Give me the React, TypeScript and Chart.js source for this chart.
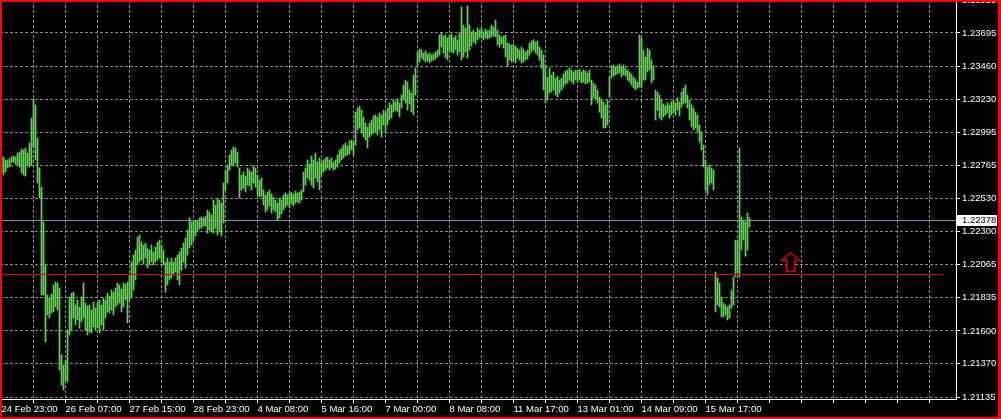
import React, { useEffect, useRef } from 'react';
import { Chart, registerables } from 'chart.js';

Chart.register(...registerables);

// ---- data ----
const X_LABELS = ['24 Feb 23:00', '26 Feb 07:00', '27 Feb 15:00', '28 Feb 23:00', '4 Mar 08:00', '5 Mar 16:00', '7 Mar 00:00', '8 Mar 08:00', '11 Mar 17:00', '13 Mar 01:00', '14 Mar 09:00', '15 Mar 17:00'];
const Y_TICKS = [1.21135, 1.2137, 1.216, 1.21835, 1.22065, 1.223, 1.2253, 1.22765, 1.22995, 1.2323, 1.2346, 1.23695, 1.23925];

const HIGHS = [
  1.22823, 1.22823, 1.22802, 1.22802, 1.22809, 1.22823, 1.2283, 1.22823, 1.22851, 1.22858, 1.22879, 1.22872, 1.22886, 1.22851, 1.22921, 1.23097,
  1.23231, 1.23189, 1.22956, 1.22746, 1.22612, 1.22366, 1.22063, 1.21852, 1.21831, 1.21859, 1.21923, 1.21944, 1.21937, 1.21901, 1.21431, 1.2136,
  1.21395, 1.21606, 1.21838, 1.21866, 1.21873, 1.21782, 1.21817, 1.21768, 1.21838, 1.21937, 1.21796, 1.21775, 1.21782, 1.21747, 1.21803, 1.21761,
  1.21796, 1.21817, 1.21782, 1.21831, 1.21817, 1.21866, 1.21845, 1.21887, 1.21873, 1.21901, 1.21937, 1.21923, 1.21894, 1.21937, 1.2193, 1.21944,
  1.21993, 1.22084, 1.22133, 1.22169, 1.2226, 1.22274, 1.22225, 1.22204, 1.22218, 1.22183, 1.22169, 1.22204, 1.22155, 1.2219, 1.22225, 1.22239,
  1.22204, 1.22169, 1.22084, 1.22112, 1.22084, 1.22112, 1.22084, 1.22112, 1.22133, 1.22155, 1.22183, 1.22218, 1.22253, 1.22309, 1.22394, 1.22366,
  1.22366, 1.2238, 1.22373, 1.22394, 1.22401, 1.22394, 1.22408, 1.2245, 1.22436, 1.22415, 1.2252, 1.22485, 1.22534, 1.2252, 1.22499, 1.2264,
  1.22731, 1.22767, 1.22837, 1.22872, 1.22893, 1.22886, 1.22858, 1.22746, 1.22696, 1.22717, 1.22689, 1.22746, 1.22731, 1.22717, 1.2276, 1.22746,
  1.22696, 1.22661, 1.22675, 1.22591, 1.22556, 1.22577, 1.22591, 1.22563, 1.22541, 1.2252, 1.22499, 1.22534, 1.2252, 1.22556, 1.2257, 1.22556,
  1.2257, 1.22577, 1.22563, 1.22584, 1.2257, 1.22577, 1.22591, 1.22717, 1.22746, 1.22802, 1.22774, 1.2283, 1.22802, 1.22851, 1.22788, 1.22816,
  1.22781, 1.22802, 1.22816, 1.22823, 1.22802, 1.22816, 1.22788, 1.22802, 1.22837, 1.22872, 1.22886, 1.22907, 1.22921, 1.229, 1.22935, 1.22942,
  1.22928, 1.23139, 1.23167, 1.23181, 1.23153, 1.23104, 1.23062, 1.23034, 1.23062, 1.23083, 1.23111, 1.23118, 1.23104, 1.23132, 1.23118, 1.23153,
  1.23139, 1.23167, 1.23203, 1.23189, 1.23224, 1.2321, 1.23231, 1.23203, 1.23259, 1.23329, 1.23364, 1.2335, 1.23294, 1.23273, 1.234, 1.23449,
  1.23561, 1.23582, 1.23575, 1.23554, 1.23568, 1.23547, 1.23554, 1.2354, 1.23547, 1.23561, 1.23575, 1.23681, 1.23695, 1.23674, 1.23681, 1.2366,
  1.23681, 1.23688, 1.2366, 1.23674, 1.23646, 1.23695, 1.23878, 1.23751, 1.2373, 1.23885, 1.23751, 1.23702, 1.23716, 1.23695, 1.2373, 1.23716,
  1.2373, 1.23702, 1.23723, 1.23709, 1.23716, 1.23751, 1.23737, 1.23786, 1.23716, 1.23681, 1.23667, 1.23674, 1.23681, 1.23625, 1.23618, 1.23611,
  1.23618, 1.23603, 1.23589, 1.23575, 1.23596, 1.23582, 1.23561, 1.23575, 1.23625, 1.23639, 1.23646, 1.23632, 1.23639, 1.23596, 1.23575, 1.2354,
  1.2347, 1.23385, 1.23449, 1.234, 1.23421, 1.23378, 1.23392, 1.23364, 1.23378, 1.23407, 1.23428, 1.23435, 1.23449, 1.23435, 1.23421, 1.23435,
  1.23428, 1.23442, 1.23421, 1.23435, 1.23428, 1.23414, 1.23435, 1.23364, 1.23343, 1.23329, 1.23294, 1.23245, 1.23224, 1.2321, 1.23189, 1.23224,
  1.23385, 1.23463, 1.2347, 1.23456, 1.23463, 1.23477, 1.23456, 1.2347, 1.23449, 1.23435, 1.23421, 1.23407, 1.23385, 1.23371, 1.2335, 1.23681,
  1.2366, 1.23575, 1.23526, 1.23589, 1.23575, 1.23505, 1.23463, 1.23294, 1.2328, 1.23259, 1.23224, 1.23196, 1.23181, 1.23203, 1.23189, 1.2321,
  1.23224, 1.23203, 1.23238, 1.2321, 1.2328, 1.23308, 1.23329, 1.23259, 1.23224, 1.23189, 1.23167, 1.23139, 1.23118, 1.23048, 1.22999, 1.22907,
  1.22802, 1.22753, 1.22767, 1.22746, 1.22731, 1.22014, 1.21972, 1.21937, 1.21838, 1.21796, 1.21782, 1.21768, 1.21782, 1.21887, 1.21979, 1.22239,
  1.22239, 1.22886, 1.22401, 1.2238, 1.22366, 1.22429, 1.22395,
];

const LOWS = [
  1.22717, 1.22696, 1.22717, 1.22746, 1.22753, 1.22781, 1.22788, 1.22774, 1.22767, 1.22753, 1.2271, 1.22696, 1.22689, 1.2276, 1.22753, 1.22767,
  1.22893, 1.22802, 1.2264, 1.22534, 1.21852, 1.21852, 1.21522, 1.21712, 1.21691, 1.21726, 1.21733, 1.21768, 1.21747, 1.21325, 1.21219, 1.21184,
  1.21255, 1.21241, 1.21571, 1.21606, 1.21691, 1.21642, 1.21677, 1.2162, 1.21663, 1.21691, 1.21606, 1.21571, 1.21592, 1.21585, 1.21627, 1.21606,
  1.2162, 1.21585, 1.21642, 1.21606, 1.21691, 1.21733, 1.21726, 1.21747, 1.21712, 1.21768, 1.21782, 1.21796, 1.21733, 1.21768, 1.21817, 1.21656,
  1.21817, 1.21838, 1.21887, 1.21958, 1.22063, 1.22084, 1.22098, 1.2207, 1.22112, 1.22042, 1.22063, 1.22084, 1.22063, 1.22084, 1.22098, 1.22112,
  1.22084, 1.22063, 1.21873, 1.21923, 1.21958, 1.21972, 1.21993, 1.22014, 1.21958, 1.21923, 1.22028, 1.22084, 1.22042, 1.22133, 1.22183, 1.22204,
  1.22239, 1.22267, 1.22295, 1.22316, 1.22323, 1.22337, 1.22337, 1.22288, 1.22309, 1.22295, 1.22288, 1.22323, 1.22274, 1.22295, 1.22267, 1.22359,
  1.22591, 1.2264, 1.22731, 1.22767, 1.2276, 1.22781, 1.22753, 1.22534, 1.22591, 1.22605, 1.22577, 1.22626, 1.22619, 1.22591, 1.2264, 1.22612,
  1.22556, 1.22541, 1.22548, 1.22485, 1.22436, 1.2245, 1.22478, 1.22429, 1.2245, 1.22436, 1.2238, 1.22394, 1.22422, 1.2245, 1.22471, 1.22485,
  1.22464, 1.22492, 1.22478, 1.22499, 1.22506, 1.22499, 1.2252, 1.22577, 1.22626, 1.22675, 1.22661, 1.22626, 1.22605, 1.22675, 1.22647, 1.22591,
  1.22696, 1.22717, 1.22731, 1.22746, 1.22731, 1.22746, 1.22731, 1.22738, 1.22753, 1.22781, 1.22802, 1.22816, 1.2283, 1.22837, 1.22844, 1.22872,
  1.22837, 1.22907, 1.23013, 1.23027, 1.22992, 1.22963, 1.22942, 1.22886, 1.22963, 1.22978, 1.22992, 1.22999, 1.22978, 1.23013, 1.22963, 1.23048,
  1.22992, 1.23048, 1.23083, 1.23097, 1.23139, 1.23153, 1.23139, 1.23104, 1.23167, 1.23224, 1.23203, 1.23153, 1.23196, 1.23139, 1.23118, 1.23259,
  1.23456, 1.23491, 1.23519, 1.23505, 1.23491, 1.23498, 1.23484, 1.23498, 1.23505, 1.23512, 1.23526, 1.2354, 1.23596, 1.23554, 1.23519, 1.23505,
  1.23575, 1.23561, 1.23554, 1.23575, 1.2354, 1.23561, 1.23505, 1.23526, 1.23561, 1.23519, 1.23575, 1.23603, 1.23632, 1.23618, 1.23646, 1.2366,
  1.2366, 1.23646, 1.2366, 1.23653, 1.2366, 1.23667, 1.23674, 1.23667, 1.23611, 1.23596, 1.23618, 1.23589, 1.23526, 1.23456, 1.23505, 1.23491,
  1.23505, 1.23484, 1.23519, 1.23505, 1.23484, 1.23491, 1.23505, 1.23512, 1.2354, 1.23561, 1.23575, 1.23554, 1.2354, 1.23505, 1.23449, 1.23294,
  1.23203, 1.23224, 1.23273, 1.2328, 1.23294, 1.23259, 1.23245, 1.23273, 1.23294, 1.23315, 1.23336, 1.23343, 1.23364, 1.2335, 1.23336, 1.23364,
  1.2335, 1.23364, 1.23343, 1.2335, 1.23336, 1.23343, 1.2335, 1.23189, 1.23238, 1.23224, 1.23203, 1.23139, 1.23097, 1.23027, 1.23027, 1.23048,
  1.23245, 1.23378, 1.23392, 1.234, 1.23407, 1.23414, 1.23385, 1.234, 1.23392, 1.23364, 1.2335, 1.23329, 1.23308, 1.23294, 1.23308, 1.23315,
  1.23308, 1.23364, 1.23364, 1.23421, 1.23435, 1.23343, 1.23364, 1.23083, 1.23153, 1.23097, 1.23083, 1.23104, 1.23118, 1.23132, 1.23097, 1.23118,
  1.23132, 1.23118, 1.23153, 1.23111, 1.23174, 1.23196, 1.23203, 1.23167, 1.23083, 1.23034, 1.23013, 1.23027, 1.22999, 1.22928, 1.22872, 1.22753,
  1.22591, 1.22556, 1.22626, 1.2264, 1.22591, 1.21733, 1.21782, 1.21768, 1.21698, 1.21698, 1.21712, 1.21677, 1.21691, 1.21761, 1.21782, 1.21979,
  1.22007, 1.21979, 1.22169, 1.22239, 1.22126, 1.22169, 1.2233,
];

const BID_PRICE = 1.22378;
const LEVEL_PRICE = 1.22;
const LEVEL_END_BAR = 471;
const ARROW_BAR = 394;
const ARROW_PRICE = 1.22155;

// ---- view / style ----
const W = 1001;
const H = 419;
const Y_MIN = 1.21121;
const Y_MAX = 1.23927;
const SLOTS = 478;
const BARS_PER_GRID = 16;
const BAR_COLOR = 'rgb(80,225,65)';
const GRID_COLOR = '#8a8a8a';
const TEXT_COLOR = '#ffffff';
const FONT = { family: "'Liberation Sans', Arial, sans-serif", size: 9.5 };

const gridTicks: number[] = [];
for (let v = 0; v < SLOTS; v += BARS_PER_GRID) gridTicks.push(v);

const overlay = {
  id: 'mt4Overlay',
  afterDatasetsDraw(chart: any) {
    const { ctx, chartArea: a, scales } = chart;
    const xs = scales.x;
    const ys = scales.y;
    ctx.save();
    ctx.lineWidth = 1;
    // horizontal level line
    const yl = Math.round(ys.getPixelForValue(LEVEL_PRICE)) + 0.5;
    ctx.strokeStyle = '#e00000';
    ctx.beginPath();
    ctx.moveTo(a.left, yl);
    ctx.lineTo(xs.getPixelForValue(LEVEL_END_BAR), yl);
    ctx.stroke();
    // bid line
    const yb = Math.round(ys.getPixelForValue(BID_PRICE)) + 0.5;
    ctx.strokeStyle = '#8797a6';
    ctx.beginPath();
    ctx.moveTo(a.left, yb);
    ctx.lineTo(a.right, yb);
    ctx.stroke();
    // up arrow object
    const cx = Math.round(xs.getPixelForValue(ARROW_BAR)) + 0.5;
    const ty = Math.round(ys.getPixelForValue(ARROW_PRICE)) + 0.5;
    const pts = [[0, 0], [9, 8], [4, 8], [4, 19], [-4, 19], [-4, 8], [-9, 8]];
    ctx.beginPath();
    pts.forEach(([px, py], i) => (i ? ctx.lineTo(cx + px, ty + py) : ctx.moveTo(cx + px, ty + py)));
    ctx.closePath();
    ctx.fillStyle = '#000';
    ctx.fill();
    ctx.strokeStyle = '#d80000';
    ctx.lineWidth = 1.5;
    ctx.stroke();
    ctx.restore();
  },
  afterDraw(chart: any) {
    const { ctx, chartArea: a, scales } = chart;
    const ys = scales.y;
    ctx.save();
    const yb = Math.round(ys.getPixelForValue(BID_PRICE));
    ctx.fillStyle = '#ffffff';
    ctx.fillRect(a.right + 1, yb - 5, 40, 11);
    ctx.fillStyle = '#000000';
    ctx.font = `${FONT.size}px ${FONT.family}`;
    ctx.textBaseline = 'middle';
    ctx.textAlign = 'left';
    ctx.fillText(BID_PRICE.toFixed(5), a.right + 6, yb + 0.5);
    // red frame
    ctx.fillStyle = '#ff0000';
    ctx.fillRect(0, 0, W, 2);
    ctx.fillRect(0, H - 2, W, 2);
    ctx.fillRect(0, 0, 2, H);
    ctx.fillRect(W - 3, 0, 3, H);
    ctx.restore();
  },
};

export default function App() {
  const ref = useRef<HTMLCanvasElement>(null);
  useEffect(() => {
    document.body.style.margin = '0';
    document.body.style.background = '#000';
    const canvas = ref.current as HTMLCanvasElement;
    const chart = new Chart(canvas, {
      type: 'bar',
      data: {
        datasets: [
          {
            data: HIGHS.map((h, i) => ({ x: i, y: [LOWS[i], h] })) as any,
            backgroundColor: BAR_COLOR,
            borderWidth: 0,
            borderSkipped: false,
            inflateAmount: 0.35,
            barThickness: 1,
            grouped: false,
          } as any,
        ],
      },
      options: {
        responsive: false,
        animation: false,
        events: [],
        layout: { padding: 0 },
        plugins: { legend: { display: false }, tooltip: { enabled: false } },
        scales: {
          x: {
            type: 'linear',
            position: 'bottom',
            min: -0.75,
            max: SLOTS - 0.75,
            bounds: 'data',
            offset: false,
            afterBuildTicks: (s: any) => {
              s.ticks = gridTicks.map((v) => ({ value: v }));
            },
            afterFit: (s: any) => {
              s.height = 20;
              s.paddingLeft = 0;
              s.paddingRight = 0;
            },
            grid: { color: GRID_COLOR, offset: false, tickColor: '#ffffff', tickLength: 4, drawTicks: true },
            border: { display: true, color: '#ffffff', dash: [3, 2] },
            ticks: {
              color: TEXT_COLOR,
              font: FONT,
              autoSkip: false,
              maxRotation: 0,
              minRotation: 0,
              align: 'start',
              padding: 1,
              callback: (v: any) => {
                const n = Number(v);
                return n % (2 * BARS_PER_GRID) === 0 ? X_LABELS[n / (2 * BARS_PER_GRID)] ?? '' : '';
              },
            },
          } as any,
          y: {
            type: 'linear',
            position: 'right',
            min: Y_MIN,
            max: Y_MAX,
            bounds: 'data',
            afterBuildTicks: (s: any) => {
              s.ticks = Y_TICKS.map((v) => ({ value: v }));
            },
            afterFit: (s: any) => {
              s.width = 45;
              s.paddingTop = 0;
              s.paddingBottom = 0;
            },
            grid: { color: GRID_COLOR, tickColor: '#ffffff', tickLength: 4, drawTicks: true },
            border: { display: true, color: '#ffffff', dash: [3, 2] },
            ticks: {
              color: TEXT_COLOR,
              font: FONT,
              padding: 2,
              autoSkip: false,
              callback: (v: any) => Number(v).toFixed(5),
            },
          } as any,
        },
      },
      plugins: [overlay],
    });
    return () => chart.destroy();
  }, []);

  return (
    <div style={{ width: W, height: H, background: '#000' }}>
      <canvas ref={ref} width={W} height={H} style={{ display: 'block', width: W, height: H }} />
    </div>
  );
}
